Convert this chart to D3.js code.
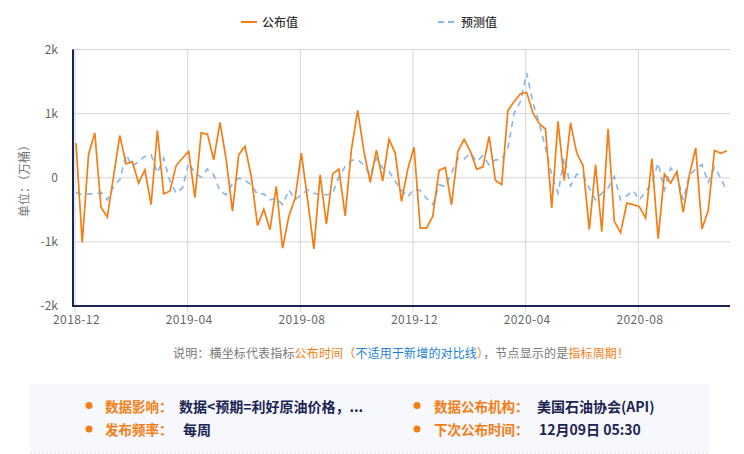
<!DOCTYPE html>
<html>
<head>
<meta charset="utf-8">
<script src="https://cdn.jsdelivr.net/npm/d3@7"></script>
<style>
html,body{margin:0;padding:0;background:#fff;overflow:hidden;}
text{font-family:"Noto Sans CJK SC","Noto Sans",sans-serif;}
</style>
</head>
<body>
<svg id="chart" width="744" height="454"></svg>
<script>
var tickLabels = ['2018-12','2019-04','2019-08','2019-12','2020-04','2020-08'];
var yTicks = [-2000,-1000,0,1000,2000];
var labelStep = 18;
var published = [540,-1010,360,700,-460,-615,20,660,215,250,-85,125,-420,740,-250,-210,190,305,410,-310,700,680,280,865,280,-520,360,490,20,-745,-490,
	-810,-135,-1100,-600,-320,385,-340,-1110,45,-725,60,135,-595,440,1050,410,-70,430,-50,600,385,-370,135,475,-785,-785,-600,115,160,-425,410,600,410,135,165,645,-40,
	-110,1050,1190,1310,1330,1010,845,760,-470,880,-40,855,385,190,-810,200,-840,765,-680,-855,-395,-420,-450,-630,300,-950,60,-85,100,-540,50,465,-800,-510,425,380,420];
var forecast = [-230,-265,-250,-250,-230,-345,-135,-30,360,175,255,335,360,75,305,-55,-240,-160,230,75,10,135,45,-210,-265,-85,-5,-40,-110,-265,-250,
	-345,-320,-420,-190,-340,-265,-190,-240,-265,-265,-250,20,175,270,280,200,45,305,150,100,-55,-190,-300,-175,-200,-320,-420,-110,-135,75,305,290,385,255,345,200,280,
	280,465,1010,1190,1630,1165,855,465,45,-240,305,-125,55,45,-160,-345,-240,-160,20,-345,-280,-200,-345,-215,-85,230,-190,150,45,-345,45,135,205,-75,165,-5,-215];

var svg = d3.select('#chart');
var left = 76, right = 727, gridRight = 730, top_ = 49.5, bottom = 306;

var x = d3.scalePoint().domain(d3.range(published.length)).range([left,right]);
var y = d3.scaleLinear().domain([-2000,2000]).range([bottom,top_]);

// grid
svg.append('g').selectAll('line').data(yTicks).enter().append('line')
	.attr('x1',72).attr('x2',gridRight)
	.attr('y1',function(d){return y(d)}).attr('y2',function(d){return y(d)})
	.attr('stroke','#d4d4d8').attr('stroke-width',1);
svg.append('g').selectAll('line').data(tickLabels).enter().append('line')
	.attr('x1',function(d,i){return x(i*labelStep)-1}).attr('x2',function(d,i){return x(i*labelStep)-1})
	.attr('y1',top_).attr('y2',312)
	.attr('stroke',function(d,i){return i==0?'#c9d4f0':'#d4d4d8'}).attr('stroke-width',1);

// axes
var yAxis = svg.append('g').attr('transform','translate(72,0)')
	.call(d3.axisLeft(y).tickValues(yTicks).tickSize(0).tickPadding(14)
		.tickFormat(function(d){return d==0?'0':(d/1000)+'k'}));
yAxis.select('.domain').remove();
yAxis.selectAll('text').attr('fill','#666').style('font-size','12px');

var xAxis = svg.append('g').attr('transform','translate(0,'+bottom+')')
	.call(d3.axisBottom(x).tickValues(tickLabels.map(function(d,i){return i*labelStep})).tickSize(0).tickPadding(9)
		.tickFormat(function(d){return tickLabels[d/labelStep]}));
xAxis.select('.domain').remove();
xAxis.selectAll('text').attr('fill','#666').style('font-size','12px').style('letter-spacing','0.4px');

svg.append('line').attr('x1',73).attr('x2',73).attr('y1',top_).attr('y2',bottom+1)
	.attr('stroke','#1c2452').attr('stroke-width',2);
svg.append('line').attr('x1',72).attr('x2',gridRight).attr('y1',bottom).attr('y2',bottom)
	.attr('stroke','#1c2452').attr('stroke-width',2);

// lines
var line = d3.line().x(function(d,i){return x(i)}).y(function(d){return y(d)});
svg.append('path').datum(forecast).attr('d',line).attr('fill','none')
	.attr('stroke','#8ab8ea').attr('stroke-width',1.7).attr('stroke-dasharray','6,5');
svg.append('path').datum(published).attr('d',line).attr('fill','none')
	.attr('stroke','#f47d14').attr('stroke-width',1.7);

// y title
svg.append('text').attr('transform','translate(29,178) rotate(-90)')
	.attr('text-anchor','middle').attr('fill','#777').style('font-size','12px').text('单位\uFF1A\uFF08万桶\uFF09');

// legend
svg.append('line').attr('x1',241).attr('x2',257).attr('y1',22).attr('y2',22).attr('stroke','#f47d14').attr('stroke-width',2);
svg.append('text').attr('x',262).attr('y',26.5).attr('fill','#333').style('font-size','12px').style('font-weight','500').text('公布值');
svg.append('line').attr('x1',438).attr('x2',455).attr('y1',22).attr('y2',22).attr('stroke','#8ab8ea').attr('stroke-width',2).attr('stroke-dasharray','6,4');
svg.append('text').attr('x',461).attr('y',26.5).attr('fill','#333').style('font-size','12px').style('font-weight','500').text('预测值');

// note
var note = svg.append('text').attr('x',173).attr('y',358).style('font-size','12px').style('letter-spacing','0.16px').attr('fill','#777');
note.append('tspan').text('说明\uFF1A横坐标代表指标');
note.append('tspan').attr('fill','#f47d14').text('公布时间\uFF08');
note.append('tspan').attr('fill','#1e7fd8').text('不适用于新增的对比线');
note.append('tspan').attr('fill','#f47d14').text('\uFF09');
note.append('tspan').attr('fill','#777').text('\uFF0C节点显示的是');
note.append('tspan').attr('fill','#f47d14').text('指标周期\uFF01');

// info panel
svg.append('rect').attr('x',30).attr('y',384).attr('width',680).attr('height',68).attr('fill','#f6f8fd');
svg.append('line').attr('x1',30).attr('x2',710).attr('y1',453).attr('y2',453)
	.attr('stroke','#d8d8d8').attr('stroke-dasharray','2,2');

var infoRows = [
	{dot:89,  tx:105, ty:411.5, label:'数据影响\uFF1A', vx:179, value:'数据<预期=利好原油价格\uFF0C...'},
	{dot:417, tx:434, ty:411.5, label:'数据公布机构\uFF1A', vx:537, value:'美国石油协会(API)'},
	{dot:89,  tx:105, ty:435, label:'发布频率\uFF1A', vx:183, value:'每周'},
	{dot:417, tx:434, ty:435, label:'下次公布时间\uFF1A', vx:539, value:'12月09日 05:30'}
];
infoRows.forEach(function(r){
	svg.append('circle').attr('cx',r.dot).attr('cy',r.ty-6).attr('r',3.5).attr('fill','#f47d14');
	svg.append('text').attr('x',r.tx).attr('y',r.ty).attr('fill','#f47d14')
		.style('font-size','13.5px').style('font-weight','700').text(r.label);
	svg.append('text').attr('x',r.vx).attr('y',r.ty).attr('fill','#1c2452')
		.style('font-size','14px').style('font-weight','700').text(r.value);
});
</script>
</body>
</html>
